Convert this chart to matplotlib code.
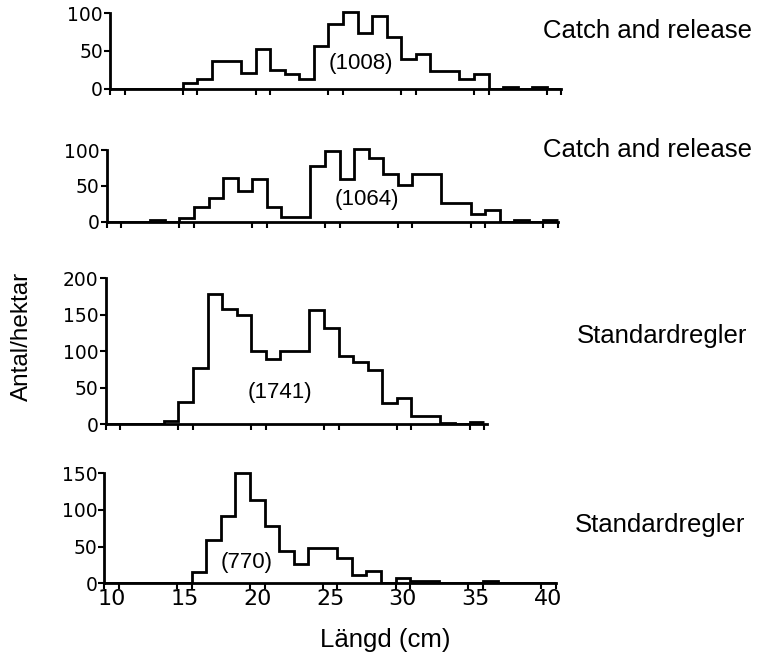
import numpy as np
import matplotlib
matplotlib.use("Agg")
import matplotlib.pyplot as plt

# Length classes (cm), one bin per whole centimetre
lengths = np.arange(10, 41)

# Density per length class (Antal/hektar) for each lake/period
catch_release_a = [0, 0, 0, 0, 0, 8, 13, 37, 37, 21, 53, 25, 20, 13, 57, 85,
                   101, 74, 96, 68, 39, 46, 24, 24, 13, 20, 0, 3, 0, 3, 0]
catch_release_b = [0, 0, 0, 2, 0, 5, 21, 33, 61, 43, 59, 21, 6, 6, 78, 99,
                   60, 101, 89, 67, 51, 66, 66, 26, 26, 11, 16, 0, 3, 0, 3]
standard_a = [0, 0, 0, 0, 4, 31, 77, 179, 158, 150, 100, 89, 100, 100, 157,
              132, 94, 85, 75, 29, 36, 12, 12, 1.5, 0, 3]
standard_b = [0, 0, 0, 0, 0, 0, 15, 59, 92, 150, 114, 78, 44, 27, 48, 48, 34,
              12, 17, 1, 7, 3, 3, 0, 0, 0, 3, 0, 0, 0, 0]

totals = ["(1008)", "(1064)", "(1741)", "(770)"]
rules = ["Catch and release", "Catch and release", "Standardregler", "Standardregler"]
y_max_ticks = [100, 100, 200, 150]
x_tick_labels = ["10", "15", "20", "25", "30", "35", "40"]

W, H = 764, 657
fig = plt.figure(figsize=(W / 100, H / 100), dpi=100)

PX_PER_CM = 14.56
XLIM = (9.5, 40.7)

# (values, left px, y px of zero, y px of top tick, spine end in cm, label pos (cm, value))
panels = [
    (catch_release_a, 110, 89.0, 13.0, 40.5, (26.7, 34)),
    (catch_release_b, 106.6, 221.7, 150.0, 40.5, (27.4, 31)),
    (standard_a, 105.6, 424.3, 278.3, 35.7, (21.5, 43)),
    (standard_b, 104.4, 583.3, 473.3, 40.5, (19.3, 29)),
]

ytick_font = {"family": "DejaVu Sans", "size": 13.5}
xtick_font = {"family": "DejaVu Sans", "size": 16}
text_font = "Liberation Sans"
lw = 2.0

for i, (vals, left, y0, ytop, xend, lab) in enumerate(panels):
    ymax = y_max_ticks[i]
    unit = (y0 - ytop) / ymax
    top_lim = ymax * 1.08
    width_px = (XLIM[1] - XLIM[0]) * PX_PER_CM
    ax = fig.add_axes([left / W, (H - y0) / H, width_px / W, top_lim * unit / H])
    vals = np.asarray(vals, dtype=float)
    edges = np.arange(len(vals) + 1) + lengths[0] - 0.5
    ax.stairs(vals, edges, color="black", linewidth=lw, baseline=None)
    ax.set_xlim(*XLIM)
    ax.set_ylim(0, top_lim)
    for s in ("top", "right"):
        ax.spines[s].set_visible(False)
    ax.spines["left"].set_linewidth(lw)
    ax.spines["bottom"].set_linewidth(lw)
    ax.spines["left"].set_bounds(0, ymax)
    ax.spines["bottom"].set_bounds(XLIM[0], xend)

    yt = np.arange(0, ymax + 1, 50)
    ax.set_yticks(yt)
    ax.set_yticklabels([str(v) for v in yt], fontdict=ytick_font)
    ax.tick_params(axis="y", direction="out", length=4, width=1.5, pad=1)

    minor = [v for c in range(10, 41, 5) for v in (c - 0.5, c + 0.5) if v <= xend]
    ax.set_xticks(minor, minor=True)
    ax.tick_params(axis="x", which="minor", direction="out", length=4, width=1.5)
    ax.set_xticks(np.arange(10, 41, 5))
    ax.tick_params(axis="x", which="major", length=0, pad=4)
    if i == 3:
        ax.set_xticklabels(x_tick_labels, fontdict=xtick_font)
    else:
        ax.set_xticklabels([])

    ax.text(lab[0], lab[1], totals[i], ha="center", va="center",
            fontsize=16, family=text_font)

# Regulation labels on the right
for (x, yb), s in zip([(543, 38), (543, 157), (577, 343), (575, 532)], rules):
    fig.text(x / W, 1 - yb / H, s, ha="left", va="baseline",
             fontsize=18.5, family=text_font)

fig.text(22 / W, 1 - 336 / H, "Antal/hektar", rotation=90, ha="center",
         va="center", fontsize=17.5, family=text_font)
fig.text(385 / W, 1 - 647 / H, "Längd (cm)", ha="center", va="baseline",
         fontsize=18.5, family=text_font)

fig.savefig("out.png", dpi=100)
